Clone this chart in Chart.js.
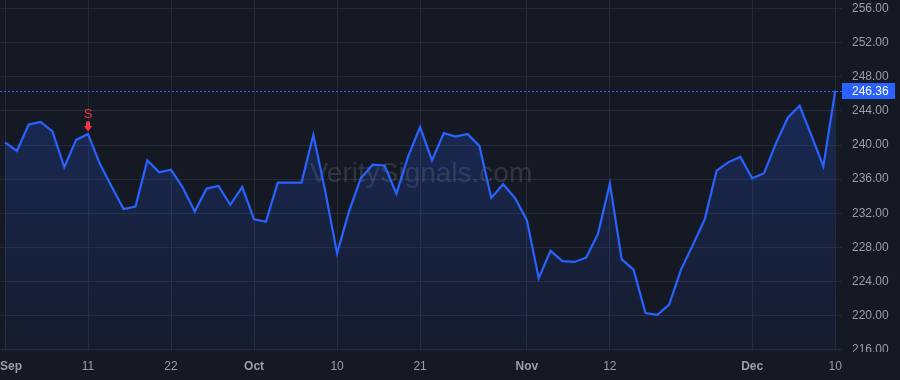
<!DOCTYPE html>
<html>
<head>
<meta charset="utf-8">
<script src="https://cdn.jsdelivr.net/npm/chart.js@4"></script>
<style>
  html, body { margin: 0; padding: 0; background: #151924; }
  #wrap { width: 900px; height: 380px; position: relative; }
</style>
</head>
<body>
<div id="wrap"><canvas id="c" width="900" height="380"></canvas></div>
<script>
// ---- data ----
const dates = [
  '2025-09-02','2025-09-03','2025-09-04','2025-09-05','2025-09-08','2025-09-09','2025-09-10','2025-09-11','2025-09-12',
  '2025-09-15','2025-09-16','2025-09-17','2025-09-18','2025-09-19','2025-09-22','2025-09-23','2025-09-24','2025-09-25',
  '2025-09-26','2025-09-29','2025-09-30',
  '2025-10-01','2025-10-02','2025-10-03','2025-10-06','2025-10-07','2025-10-08','2025-10-09','2025-10-10','2025-10-13',
  '2025-10-14','2025-10-15','2025-10-16','2025-10-17','2025-10-20','2025-10-21','2025-10-22','2025-10-23','2025-10-24',
  '2025-10-27','2025-10-28','2025-10-29','2025-10-30','2025-10-31',
  '2025-11-03','2025-11-04','2025-11-05','2025-11-06','2025-11-07','2025-11-10','2025-11-11','2025-11-12','2025-11-13',
  '2025-11-14','2025-11-17','2025-11-18','2025-11-19','2025-11-20','2025-11-21','2025-11-24','2025-11-25','2025-11-26',
  '2025-11-28',
  '2025-12-01','2025-12-02','2025-12-03','2025-12-04','2025-12-05','2025-12-08','2025-12-09','2025-12-10'
];
const closeValues = [
  240.3, 239.3, 242.4, 242.7, 241.6, 237.4, 240.6, 241.3, 237.8, 235.1,
  232.5, 232.8, 238.2, 236.8, 237.1, 235.0, 232.2, 234.9, 235.2, 233.0,
  235.1, 231.3, 231.0, 235.6, 235.6, 235.6, 241.2, 234.6, 227.3, 232.2,
  236.1, 237.7, 237.6, 234.3, 238.7, 242.1, 238.2, 241.4, 241.0, 241.3,
  239.9, 233.8, 235.4, 233.8, 231.2, 224.4, 227.6, 226.4, 226.3, 226.8,
  229.6, 235.5, 226.6, 225.4, 220.3, 220.1, 221.3, 225.4, 228.3, 231.3,
  237.0, 238.0, 238.6, 236.1, 236.7, 240.2, 243.2, 244.6, 241.1, 237.5,
  246.36
];
const xTickIndices = [0, 7, 14, 21, 28, 35, 44, 51, 63, 70];
const xTickLabels  = ['Sep', '11', '22', 'Oct', '10', '21', 'Nov', '12', 'Dec', '10'];
const monthLabels  = ['Sep', 'Oct', 'Nov', 'Dec'];
const yTickValues  = [216, 220, 224, 228, 232, 236, 240, 244, 248, 252, 256];
const signalIndices = [7];
const signalTexts   = ['S'];
const lastPrice = 246.36;
const watermarkText = 'VeritySignals.com';

// ---- styles ----
const BG = '#151924';
const GRID = '#252a36';
const TEXT = '#9a9ea8';
const BLUE = '#2962ff';
const RED = '#f23645';
const FONT = '"Liberation Sans", Arial, sans-serif';

const overlay = {
  id: 'overlay',
  beforeDraw(chart) {
    const ctx = chart.ctx;
    ctx.save();
    ctx.fillStyle = BG;
    ctx.fillRect(0, 0, chart.width, chart.height);
    ctx.restore();
  },
  beforeDatasetsDraw(chart) {
    const { ctx, chartArea, scales } = chart;
    ctx.save();
    // watermark
    ctx.font = '28px ' + FONT;
    ctx.fillStyle = 'rgba(150,156,172,0.22)';
    ctx.textAlign = 'center';
    ctx.textBaseline = 'alphabetic';
    ctx.fillText(watermarkText, (chartArea.left + chartArea.right) / 2, 182);
    // last price dashed line
    const y = Math.round(scales.y.getPixelForValue(lastPrice)) + 0.5;
    ctx.strokeStyle = BLUE;
    ctx.lineWidth = 1;
    ctx.setLineDash([2, 2]);
    ctx.beginPath();
    ctx.moveTo(chartArea.left, y);
    ctx.lineTo(chartArea.right, y);
    ctx.stroke();
    ctx.restore();
  },
  afterDatasetsDraw(chart) {
    const { ctx, scales } = chart;
    ctx.save();
    signalIndices.forEach((idx, k) => {
      const px = scales.x.getPixelForValue(idx);
      const py = scales.y.getPixelForValue(closeValues[idx]);
      ctx.fillStyle = RED;
      const tip = py - 2.5;
      ctx.beginPath();
      ctx.moveTo(px - 2, tip - 10);
      ctx.lineTo(px + 2, tip - 10);
      ctx.lineTo(px + 2, tip - 5.5);
      ctx.lineTo(px + 4.2, tip - 5.5);
      ctx.lineTo(px, tip);
      ctx.lineTo(px - 4.2, tip - 5.5);
      ctx.lineTo(px - 2, tip - 5.5);
      ctx.closePath();
      ctx.fill();
      ctx.font = '13px ' + FONT;
      ctx.textAlign = 'center';
      ctx.textBaseline = 'alphabetic';
      ctx.fillText(signalTexts[k], px, tip - 13.5);
    });
    ctx.restore();
  },
  afterDraw(chart) {
    const { ctx, chartArea, scales } = chart;
    ctx.save();
    // clip the lowest price label like the reference
    ctx.fillStyle = BG;
    ctx.fillRect(chartArea.right + 2, chartArea.bottom + 1, chart.width - chartArea.right, chart.height - chartArea.bottom);
    // x labels
    ctx.textBaseline = 'middle';
    ctx.textAlign = 'left';
    xTickIndices.forEach((idx, k) => {
      const lab = xTickLabels[k];
      const bold = monthLabels.includes(lab);
      ctx.font = (bold ? 'bold ' : '') + '12px ' + FONT;
      ctx.fillStyle = TEXT;
      const w = ctx.measureText(lab).width;
      const px = scales.x.getPixelForValue(idx);
      let left = px - w / 2;
      if (left < 0) left = 0;
      ctx.fillText(lab, left, 367);
    });
    // price box
    const y = scales.y.getPixelForValue(lastPrice);
    ctx.fillStyle = BLUE;
    ctx.fillRect(chartArea.right, Math.round(y) - 8, 53, 16);
    ctx.fillStyle = '#ffffff';
    ctx.font = '12px ' + FONT;
    ctx.textAlign = 'left';
    ctx.textBaseline = 'middle';
    ctx.fillText(lastPrice.toFixed(2), chartArea.right + 10, Math.round(y) + 0.5);
    ctx.restore();
  }
};

const ctx = document.getElementById('c').getContext('2d');
new Chart(ctx, {
  type: 'line',
  data: {
    labels: dates,
    datasets: [{
      data: closeValues.map((v, i) => ({ x: i, y: v })),
      borderColor: BLUE,
      borderWidth: 2.2,
      pointRadius: 0,
      tension: 0,
      fill: 'start',
      backgroundColor: (c) => {
        const ca = c.chart.chartArea;
        if (!ca) return 'rgba(41,98,255,0.15)';
        const g = c.chart.ctx.createLinearGradient(0, ca.top, 0, ca.bottom);
        g.addColorStop(0, 'rgba(41,98,255,0.30)');
        g.addColorStop(1, 'rgba(41,98,255,0.04)');
        return g;
      }
    }]
  },
  options: {
    responsive: false,
    animation: false,
    layout: { padding: 0 },
    plugins: { legend: { display: false }, tooltip: { enabled: false } },
    scales: {
      x: {
        type: 'linear',
        min: -0.4216,
        max: 70.573,
        border: { display: false },
        grid: { color: GRID, drawTicks: false },
        ticks: { display: false },
        afterBuildTicks: (s) => { s.ticks = xTickIndices.map(v => ({ value: v })); },
        afterFit: (s) => { s.height = 29; s.paddingLeft = 0; s.paddingRight = 0; s.paddingTop = 0; s.paddingBottom = 0; }
      },
      y: {
        position: 'right',
        min: 215.86,
        max: 257.0,
        border: { display: false },
        grid: { color: GRID, drawTicks: false },
        ticks: {
          color: TEXT,
          padding: 10,
          font: { family: FONT, size: 12 },
          callback: (v) => Number(v).toFixed(2)
        },
        afterBuildTicks: (s) => { s.ticks = yTickValues.map(v => ({ value: v })); },
        afterFit: (s) => { s.width = 58; s.paddingTop = 0; s.paddingBottom = 0; s.paddingLeft = 0; s.paddingRight = 0; }
      }
    }
  },
  plugins: [overlay]
});
</script>
</body>
</html>
